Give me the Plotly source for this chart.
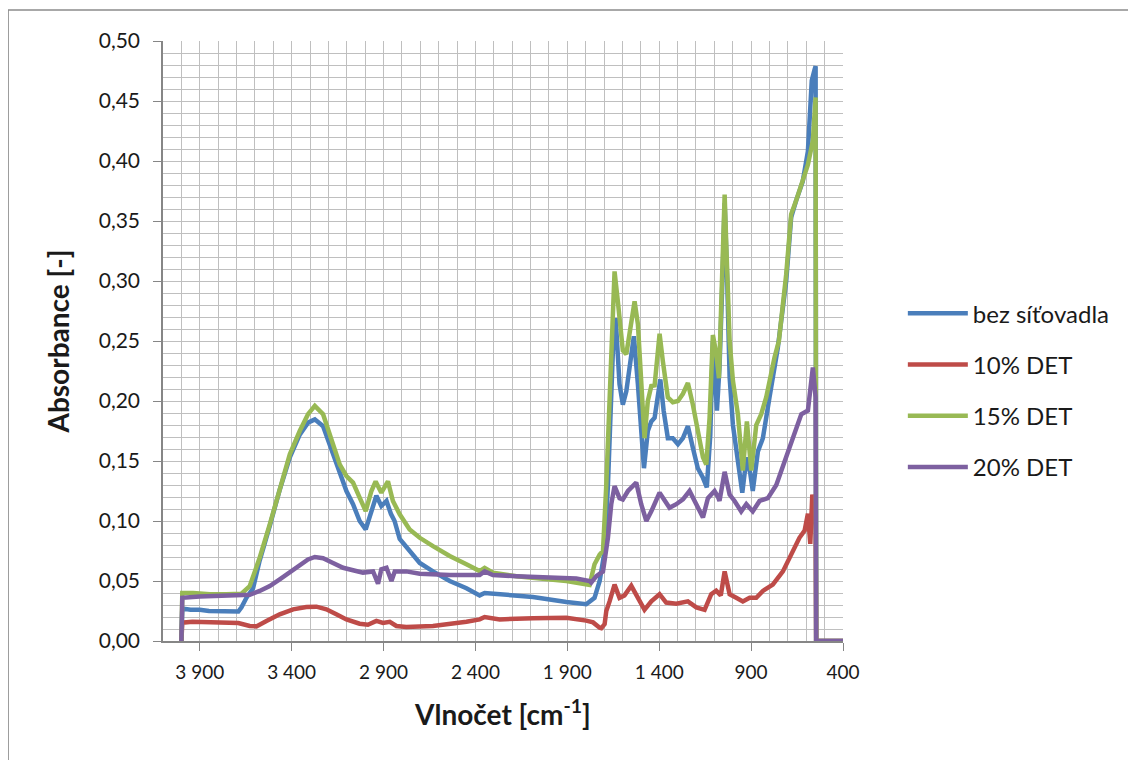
import plotly.graph_objects as go

# ---- data ----
wn_bez = [4000, 3995, 3950, 3900, 3850, 3800, 3750, 3690, 3673, 3646, 3610, 3574, 3519, 3465,
          3410, 3356, 3311, 3274, 3229, 3175, 3138, 3102, 3066, 3030, 2997, 2966, 2939, 2912,
          2884, 2860, 2840, 2812, 2758, 2703, 2631, 2540, 2449, 2377, 2350, 2268, 2087, 1905,
          1797, 1752, 1724, 1697, 1679, 1652, 1637, 1616, 1598, 1579, 1552, 1538, 1516, 1498,
          1483, 1462, 1443, 1425, 1407, 1394, 1376, 1353, 1326, 1298, 1271, 1244, 1217, 1190,
          1162, 1141, 1122, 1108, 1086, 1072, 1054, 1044, 1030, 1017, 999, 972, 948, 935, 923,
          905, 891, 863, 836, 800, 755, 709, 682, 655, 619, 591, 570, 555, 549, 546, 400]
abs_bez = [0, 0.027, 0.026, 0.026, 0.025, 0.025, 0.0245, 0.0245, 0.028, 0.036, 0.044, 0.067,
           0.096, 0.126, 0.153, 0.172, 0.182, 0.1847, 0.179, 0.1556, 0.139, 0.125, 0.114, 0.100,
           0.093, 0.108, 0.121, 0.1125, 0.1167, 0.106, 0.100, 0.085, 0.075, 0.065, 0.058, 0.050,
           0.044, 0.038, 0.040, 0.039, 0.0367, 0.0325, 0.0306, 0.036, 0.050, 0.075, 0.130, 0.242,
           0.269, 0.214, 0.197, 0.208, 0.242, 0.254, 0.214, 0.169, 0.144, 0.175, 0.183, 0.186,
           0.208, 0.218, 0.192, 0.169, 0.169, 0.164, 0.169, 0.179, 0.161, 0.144, 0.136, 0.128,
           0.172, 0.250, 0.192, 0.228, 0.310, 0.365, 0.300, 0.220, 0.180, 0.153, 0.1236, 0.140,
           0.153, 0.140, 0.125, 0.158, 0.169, 0.203, 0.244, 0.300, 0.353, 0.367, 0.383, 0.408,
           0.467, 0.476, 0.479, 0, 0]

wn_10 = [4000, 3995, 3940, 3845, 3760, 3690, 3628, 3592, 3537, 3465, 3392, 3320, 3265, 3211,
         3157, 3102, 3030, 2985, 2939, 2903, 2866, 2830, 2776, 2703, 2631, 2449, 2377, 2350,
         2268, 2087, 1905, 1797, 1760, 1724, 1715, 1697, 1688, 1670, 1643, 1616, 1589, 1552,
         1516, 1480, 1443, 1398, 1362, 1307, 1244, 1198, 1153, 1117, 1090, 1065, 1044, 1017,
         981, 945, 908, 872, 836, 782, 727, 682, 637, 609, 591, 578, 567, 549, 546, 400]
abs_10 = [0, 0.0153, 0.016, 0.0158, 0.015, 0.015, 0.0125, 0.0122, 0.0167, 0.0222, 0.0264,
          0.0283, 0.0286, 0.0264, 0.0222, 0.018, 0.0144, 0.0135, 0.0167, 0.015, 0.016, 0.0125,
          0.0117, 0.012, 0.0125, 0.016, 0.018, 0.020, 0.018, 0.019, 0.0194, 0.017, 0.0155,
          0.011, 0.0106, 0.014, 0.025, 0.033, 0.047, 0.036, 0.038, 0.046, 0.036, 0.026, 0.033,
          0.039, 0.032, 0.031, 0.033, 0.028, 0.026, 0.039, 0.042, 0.038, 0.058, 0.039, 0.036,
          0.033, 0.036, 0.036, 0.0417, 0.047, 0.058, 0.072, 0.086, 0.092, 0.106, 0.081, 0.122,
          0.100, 0, 0]

wn_15 = [4000, 3995, 3936, 3845, 3755, 3673, 3628, 3574, 3519, 3465, 3410, 3356, 3311, 3274,
         3229, 3175, 3138, 3102, 3066, 3030, 2997, 2966, 2943, 2912, 2876, 2849, 2812, 2758,
         2703, 2631, 2540, 2449, 2377, 2350, 2305, 2177, 2051, 1905, 1779, 1752, 1724, 1706,
         1688, 1661, 1643, 1625, 1598, 1579, 1552, 1534, 1516, 1498, 1480, 1462, 1443, 1425,
         1398, 1380, 1353, 1326, 1298, 1271, 1244, 1217, 1190, 1162, 1144, 1126, 1108, 1090,
         1075, 1054, 1044, 1035, 1017, 999, 972, 945, 923, 899, 872, 845, 818, 773, 749, 709,
         682, 655, 619, 591, 564, 549, 546, 400]
abs_15 = [0, 0.040, 0.040, 0.039, 0.039, 0.0394, 0.0458, 0.0694, 0.0972, 0.1278, 0.1556,
          0.175, 0.189, 0.196, 0.189, 0.164, 0.147, 0.1375, 0.132, 0.1194, 0.1083, 0.125,
          0.133, 0.1236, 0.133, 0.1167, 0.1056, 0.093, 0.086, 0.079, 0.0708, 0.0639, 0.0583,
          0.061, 0.057, 0.054, 0.0522, 0.050, 0.0467, 0.064, 0.072, 0.075, 0.130, 0.242, 0.308,
          0.283, 0.242, 0.239, 0.269, 0.283, 0.264, 0.214, 0.169, 0.200, 0.2125, 0.213, 0.256,
          0.233, 0.203, 0.199, 0.200, 0.206, 0.215, 0.197, 0.175, 0.153, 0.147, 0.186, 0.255,
          0.240, 0.219, 0.325, 0.372, 0.330, 0.250, 0.217, 0.189, 0.142, 0.183, 0.142, 0.180,
          0.189, 0.203, 0.236, 0.250, 0.3056, 0.3556, 0.367, 0.383, 0.397, 0.417, 0.453, 0, 0]

wn_20 = [4000, 3995, 3900, 3800, 3700, 3628, 3574, 3519, 3465, 3410, 3356, 3311, 3274, 3229,
         3175, 3120, 3066, 3012, 2957, 2930, 2912, 2884, 2857, 2839, 2776, 2703, 2540, 2377,
         2350, 2305, 2177, 1996, 1851, 1779, 1770, 1742, 1724, 1706, 1679, 1661, 1643, 1616,
         1598, 1570, 1525, 1498, 1470, 1443, 1398, 1371, 1344, 1307, 1271, 1235, 1208, 1162,
         1135, 1099, 1080, 1072, 1044, 1017, 990, 954, 926, 891, 854, 809, 763, 709, 655, 627,
         591, 564, 549, 546, 400]
abs_20 = [0, 0.036, 0.037, 0.0375, 0.038, 0.0385, 0.0417, 0.0458, 0.0514, 0.057, 0.0625,
          0.068, 0.070, 0.069, 0.065, 0.061, 0.059, 0.057, 0.058, 0.0478, 0.0597, 0.061, 0.050,
          0.058, 0.058, 0.056, 0.055, 0.055, 0.058, 0.055, 0.054, 0.053, 0.052, 0.050, 0.0486,
          0.054, 0.0556, 0.058, 0.086, 0.114, 0.129, 0.119, 0.118, 0.125, 0.132, 0.114, 0.100,
          0.108, 0.1236, 0.118, 0.111, 0.114, 0.118, 0.125, 0.1167, 0.103, 0.119, 0.125, 0.120,
          0.1167, 0.141, 0.122, 0.1167, 0.108, 0.114, 0.108, 0.1167, 0.119, 0.130, 0.153, 0.178,
          0.189, 0.192, 0.228, 0.203, 0, 0]

series_names = ["bez síťovadla", "10% DET", "15% DET", "20% DET"]
series_x = [wn_bez, wn_10, wn_15, wn_20]
series_y = [abs_bez, abs_10, abs_15, abs_20]
series_colors = ["#4A7EBB", "#BE4B48", "#98B954", "#7D60A0"]

FONT = "Lato, 'Open Sans', sans-serif"
GRID = "#bfbfbf"
AXIS = "#868686"
TXT = "#1a1a1a"

fig = go.Figure()
for i, (name, xs, ys, col) in enumerate(zip(series_names, series_x, series_y, series_colors)):
    fig.add_trace(go.Scatter(x=xs, y=ys, mode="lines", name=name, legendgroup=f"g{i}",
                             line=dict(color=col, width=4.5)))

fig.update_layout(
    width=1136, height=760,
    margin=dict(l=155, r=300.5, t=33, b=127),
    paper_bgcolor="white", plot_bgcolor="white",
    separators=", ",
    font=dict(family=FONT, size=20, color=TXT),
    showlegend=True,
    legend=dict(x=1.088, y=0.583, xanchor="left", yanchor="top",
                font=dict(family=FONT, size=24, color=TXT),
                tracegroupgap=17, itemwidth=60, bgcolor="rgba(0,0,0,0)"),
)

fig.update_xaxes(
    range=[4100, 400], tick0=400, dtick=500, tickformat=",d",
    ticks="outside", ticklen=8, tickcolor=AXIS, tickwidth=1,
    showline=True, linecolor=AXIS, linewidth=1.5,
    showgrid=True, gridcolor=GRID, gridwidth=1, zeroline=False,
    minor=dict(dtick=100, showgrid=True, gridcolor=GRID, gridwidth=1, ticks=""),
    ticklabelstandoff=5,
    tickfont=dict(family=FONT, size=19, color=TXT),
    title=dict(text="<b>Vlnočet [cm<sup>-1</sup>]</b>", standoff=24,
               font=dict(family=FONT, size=28, color=TXT)),
)
fig.update_yaxes(
    range=[0, 0.5], dtick=0.05, tickformat=".2f",
    ticks="outside", ticklen=8, tickcolor=AXIS, tickwidth=1,
    showline=True, linecolor=AXIS, linewidth=1.5,
    showgrid=True, gridcolor=GRID, gridwidth=1, zeroline=False,
    minor=dict(dtick=0.01, showgrid=True, gridcolor=GRID, gridwidth=1, ticks=""),
    ticklabelstandoff=9,
    tickfont=dict(family=FONT, size=21, color=TXT),
    title=dict(text="<b>Absorbance [-]</b>", standoff=21,
               font=dict(family=FONT, size=28, color=TXT)),
)

# outer chart border (bottom edge lies below the visible page)
fig.add_shape(type="rect", xref="paper", yref="paper",
              x0=-0.2278, x1=1.4254, y0=-0.26, y1=1.0517,
              line=dict(color="#8c8c8c", width=1.5), fillcolor="rgba(0,0,0,0)", layer="below")

fig.write_html("out.html")
